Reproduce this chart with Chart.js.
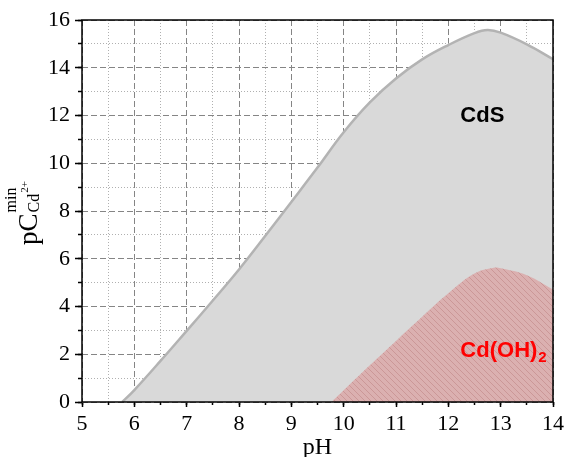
<!DOCTYPE html>
<html>
<head>
<meta charset="utf-8">
<script src="https://cdn.jsdelivr.net/npm/chart.js@4/dist/chart.umd.min.js"></script>
<style>
  body { margin: 0; background: #fff; }
  #wrap { width: 568px; height: 457px; }
</style>
</head>
<body>
<div id="wrap"><canvas id="chart" width="568" height="457"></canvas></div>
<script>
// CdS boundary (pH vs pC min)
const phCdS = [5.77, 6, 6.5, 7, 7.5, 8, 8.5, 9, 9.5, 10, 10.5, 11, 11.5, 12, 12.5, 12.75, 13, 13.5, 14];
const pCdS = [0, 0.5, 1.72, 2.98, 4.25, 5.55, 6.95, 8.38, 9.82, 11.3, 12.55, 13.55, 14.35, 14.95, 15.45, 15.58, 15.47, 14.98, 14.36];

// Cd(OH)2 boundary
const phOH = [9.77, 10, 10.5, 11, 11.5, 12, 12.5, 12.87, 13, 13.5, 14];
const pOH = [0, 0.49, 1.54, 2.56, 3.57, 4.55, 5.38, 5.62, 5.6, 5.31, 4.71];

const xTicks = [5, 14, 1, 0.5];   // min, max, major step, minor step
const yTicks = [0, 16, 2, 1];

const serif = "'Liberation Serif', 'Times New Roman', serif";
const sans = "'Liberation Sans', Arial, sans-serif";

function toPoints(xs, ys) {
    return xs.map((x, i) => ({ x: x, y: ys[i] }));
}

function hatchPattern() {
    const c = document.createElement('canvas');
    c.width = 6; c.height = 6;
    const p = c.getContext('2d');
    p.fillStyle = '#dbb0b0';
    p.fillRect(0, 0, 6, 6);
    p.strokeStyle = '#cb9797';
    p.lineWidth = 1;
    p.beginPath();
    p.moveTo(0, 0); p.lineTo(6, 6);
    p.moveTo(-3, 3); p.lineTo(3, 9);
    p.moveTo(3, -3); p.lineTo(9, 3);
    p.stroke();
    return p.createPattern(c, 'repeat');
}

// frame, region labels and the y title with sub/superscripts
const decorations = {
    id: 'decorations',
    afterDraw(chart) {
        const { ctx, chartArea: a, scales } = chart;
        ctx.save();
        ctx.strokeStyle = '#000';
        ctx.lineWidth = 1.5;
        ctx.strokeRect(a.left, a.top, a.right - a.left, a.bottom - a.top);

        ctx.textAlign = 'left';
        ctx.textBaseline = 'alphabetic';
        ctx.font = 'bold 22px ' + sans;
        ctx.fillStyle = '#000';
        ctx.fillText('CdS', scales.x.getPixelForValue(12.23), scales.y.getPixelForValue(11.74));

        ctx.fillStyle = '#ff0000';
        const ox = scales.x.getPixelForValue(12.23);
        const oy = scales.y.getPixelForValue(1.9);
        ctx.fillText('Cd(OH)', ox, oy);
        const w = ctx.measureText('Cd(OH)').width;
        ctx.font = 'bold 15px ' + sans;
        ctx.fillText('2', ox + w + 1, oy + 5);

        // y axis title: pC^min_Cd2+
        ctx.fillStyle = '#000';
        ctx.translate(37, 245);
        ctx.rotate(-Math.PI / 2);
        ctx.font = '27px ' + serif;
        ctx.fillText('pC', 0, 0);
        const pw = ctx.measureText('pC').width;
        ctx.font = '16px ' + serif;
        ctx.fillText('min', pw + 1, -21);
        ctx.fillText('Cd', pw + 1, 2);
        const cw = ctx.measureText('Cd').width;
        ctx.font = '11px ' + serif;
        ctx.fillText('2+', pw + 1 + cw + 1, -9);
        ctx.restore();
    }
};

function minorColor(step, color) {
    return (ctx) => (Math.abs(ctx.tick.value / step - Math.round(ctx.tick.value / step)) < 1e-6) ? 'rgba(0,0,0,0)' : color;
}

const tickFont = { family: serif, size: 22 };

new Chart(document.getElementById('chart'), {
    type: 'line',
    data: {
        datasets: [
            {
                label: 'CdS',
                data: toPoints(phCdS, pCdS),
                borderColor: '#b3b3b3',
                borderWidth: 2.5,
                backgroundColor: '#d9d9d9',
                fill: 'origin',
                pointRadius: 0,
                tension: 0.4,
                order: 2
            },
            {
                label: 'Cd(OH)2',
                data: toPoints(phOH, pOH),
                borderWidth: 0,
                borderColor: 'rgba(0,0,0,0)',
                backgroundColor: hatchPattern(),
                fill: 'origin',
                pointRadius: 0,
                tension: 0.4,
                order: 1
            }
        ]
    },
    options: {
        responsive: false,
        animation: false,
        layout: { padding: { left: 0, right: 12, top: 20, bottom: 0 } },
        plugins: { legend: { display: false }, tooltip: { enabled: false } },
        scales: {
            x: {
                type: 'linear', position: 'bottom', weight: 1, z: 1,
                min: xTicks[0], max: xTicks[1],
                ticks: { stepSize: xTicks[2], color: '#000', font: tickFont, padding: 4 },
                grid: { color: '#858585', lineWidth: 1, tickLength: 5, tickColor: '#000', tickWidth: 1.5, tickBorderDash: [] },
                border: { display: false, dash: [6, 3] },
                title: { display: true, text: 'pH', color: '#000', font: { family: serif, size: 24, lineHeight: 0.8 }, padding: { top: 0, bottom: 0 } },
                afterFit: (s) => { s.height = 55; }
            },
            x2: {
                type: 'linear', position: 'bottom', weight: 0, z: 1,
                min: xTicks[0], max: xTicks[1],
                ticks: { stepSize: xTicks[3], display: false },
                grid: { color: minorColor(xTicks[2], '#b0b0b0'), lineWidth: 1, tickLength: 3, tickColor: '#000', tickWidth: 1.5, tickBorderDash: [] },
                border: { display: false, dash: [1, 2] },
                afterFit: (s) => { s.height = 0; }
            },
            y: {
                type: 'linear', position: 'left', weight: 1, z: 1,
                min: yTicks[0], max: yTicks[1],
                ticks: { stepSize: yTicks[2], color: '#000', font: tickFont, padding: 5 },
                grid: { color: '#858585', lineWidth: 1, tickLength: 7, tickColor: '#000', tickWidth: 1.5, tickBorderDash: [] },
                border: { display: false, dash: [6, 3] },
                afterFit: (s) => { s.width = 82; }
            },
            y2: {
                type: 'linear', position: 'left', weight: 0, z: 1,
                min: yTicks[0], max: yTicks[1],
                ticks: { stepSize: yTicks[3], display: false },
                grid: { color: minorColor(yTicks[2], '#b0b0b0'), lineWidth: 1, tickLength: 4, tickColor: '#000', tickWidth: 1.5, tickBorderDash: [] },
                border: { display: false, dash: [1, 2] },
                afterFit: (s) => { s.width = 0; }
            }
        }
    },
    plugins: [decorations]
});
</script>
</body>
</html>
